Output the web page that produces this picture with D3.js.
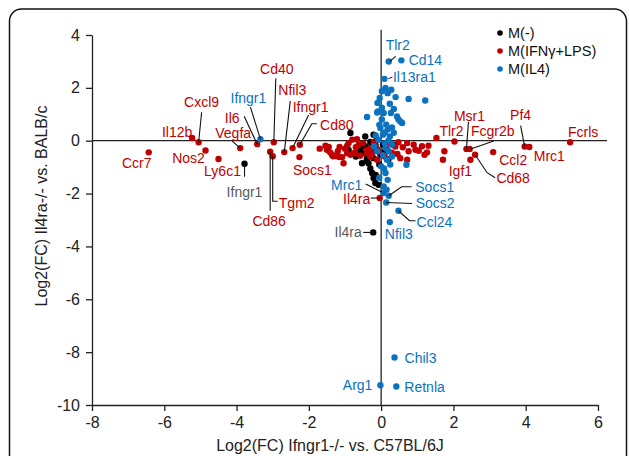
<!DOCTYPE html>
<html>
<head>
<meta charset="utf-8">
<script src="https://cdn.jsdelivr.net/npm/d3@7"></script>
<style>
  body { margin: 0; background: #fff; }
  svg { display: block; font-family: "Liberation Sans", Arial, sans-serif; }
</style>
</head>
<body>
<div id="chart"></div>
<script>
// ---- data: [log2FC Ifngr1, log2FC Il4ra, gene (only when labelled)] ----
const mNone = [
  [-3.78, -0.87, "Ifngr1"], [-0.22, -3.47, "Il4ra"],
  [-0.85, 0.29], [-0.44, 0.16], [-0.21, 0.23], [-0.35, -0.28], [-0.58, -0.34],
  [-0.48, -0.47], [-0.62, -0.53], [-0.39, -0.66], [-0.21, -0.66], [-0.02, -0.53],
  [-0.35, -0.85], [-0.53, -0.85], [-0.25, -1.22], [-0.21, -1.41], [-0.16, -1.6],
  [-0.07, -1.67], [0.35, -0.15], [-0.16, -0.15], [-0.3, -0.05], [-0.12, 0.05],
  [-0.7, -0.6], [-0.45, -0.2], [-0.28, -0.45], [-0.1, -0.35], [-0.55, -0.15],
  [-0.05, -0.9], [-0.3, -1.05], [-0.15, -1.3], [0.1, -0.4], [0.2, -0.7],
  [-0.4, -0.75], [-0.25, -0.25], [-0.65, -0.25], [-0.9, -0.35], [0.05, -0.15]
];

const mIfnLps = [
  [-6.43, -0.44, "Ccr7"], [-5.23, 0.1, "Il12b"], [-5.05, -0.06, "Cxcl9"],
  [-4.86, -0.37, "Nos2"], [-4.5, -0.69, "Ly6c1"], [-3.9, -0.28, "Vegfa"],
  [-3.43, -0.13, "Il6"], [-3.07, -0.42, "Cd86"], [-3.0, -0.59, "Tgm2"],
  [-2.97, -0.06, "Cd40"], [-2.68, -0.43, "Nfil3"], [-2.45, -0.28, "Ifngr1"],
  [-2.25, -0.15, "Cd80"], [-2.26, -0.62, "Socs1"], [-0.04, -2.17, "Il4ra"],
  [2.03, -0.03, "Tlr2"], [2.36, -0.31, "Msr1"], [2.45, -0.31, "Fcgr2b"],
  [2.47, -0.72, "Igf1"], [2.6, -0.53, "Cd68"], [3.1, -0.43, "Ccl2"],
  [3.97, -0.22, "Pf4"], [4.1, -0.24, "Mrc1"], [5.23, -0.06, "Fcrls"],
  [-1.54, -0.19], [-1.5, -0.34], [-1.36, -0.53], [-1.22, -0.59], [-1.04, -0.85],
  [-0.94, -0.19], [-0.8, 0.04], [-0.67, 0.06], [-0.85, -0.53], [-0.71, -0.47],
  [-0.58, -0.57], [-0.39, -0.47], [-0.21, -0.28], [-0.07, -0.4], [-1.45, -0.24],
  [-1.41, -0.44], [-1.15, -0.62], [-1.33, -0.59], [-0.9, -0.09], [-0.76, -0.47],
  [-1.15, -0.24], [-0.62, -0.15], [-0.94, -0.47], [-1.08, -0.62], [-0.3, -0.28],
  [-0.25, -0.47], [-0.11, -0.72], [-0.7, -0.25], [-0.5, -0.1], [-0.4, -0.35],
  [-0.15, -0.2], [-0.2, -0.05], [-0.3, -0.6], [-1.7, -0.3], [-1.2, -0.4],
  [-1.0, -0.3], [0.48, -0.06], [0.72, -0.09], [0.6, -0.25], [0.76, -0.4],
  [1.04, -0.38], [1.13, -0.21], [1.31, -0.19], [1.27, -0.44], [1.2, -0.53],
  [1.53, 0.1], [1.75, -0.4], [1.71, -0.72], [0.39, -0.22], [0.53, -0.66],
  [0.72, -0.72], [0.95, -0.34], [0.3, -0.45], [0.15, -0.3], [0.25, -0.1],
  [0.1, -0.6], [0.9, -0.15], [0.45, -0.5]
];

const mIl4 = [
  [0.21, 3.0, "Tlr2"], [0.56, 3.04, "Cd14"], [0.09, 2.34, "Il13ra1"],
  [-3.34, 0.06, "Ifngr1"], [0.07, -1.98, "Mrc1"], [0.21, -2.08, "Socs1"],
  [0.14, -2.34, "Socs2"], [0.48, -2.65, "Ccl24"], [0.24, -3.08, "Nfil3"],
  [0.37, -8.2, "Chil3"], [-0.02, -9.25, "Arg1"], [0.42, -9.3, "Retnla"],
  [0.02, 1.87], [0.18, 1.8], [0.28, 1.93], [-0.04, 1.62], [0.76, 1.58], [1.22, 1.52],
  [-0.1, 1.43], [0.24, 1.4], [-0.11, 1.07], [0.07, 1.05], [0.27, 1.05], [0.44, 0.92],
  [0.53, 0.73], [0.58, 0.67], [-0.39, 0.9], [-0.09, 1.11], [0.48, 0.8], [0.02, 0.8],
  [0.14, 0.61], [-0.02, 0.48], [0.18, 0.42], [0.05, 0.23], [0.24, 0.16], [-0.07, 0.04],
  [0.3, -0.15], [0.12, -0.28], [0.21, -0.4], [-0.11, -0.4], [0.16, -0.72], [0.0, -0.97],
  [0.12, -1.22], [0.18, -1.48], [0.07, -1.73], [0.7, -0.91], [0.1, 0.3], [-0.05, 0.6],
  [0.2, 0.0], [0.1, -0.1], [0.3, 0.5], [0.35, 0.3], [-0.15, 0.2], [0.05, -0.55],
  [0.25, -0.9], [0.08, -1.05], [-0.05, -1.4], [0.15, -1.85], [0.35, 1.2], [0.4, 1.65],
  [-0.2, -0.2], [0.3, -0.6], [0.02, 1.25], [0.12, 2.0]
];

const seriesNames = ["M(-)", "M(IFNγ+LPS)", "M(IL4)"];
const xTicks = [-8, -6, -4, -2, 0, 2, 4, 6];
const yTicks = [-10, -8, -6, -4, -2, 0, 2, 4];
const xTitle = "Log2(FC) Ifngr1-/- vs. C57BL/6J";
const yTitle = "Log2(FC) Il4ra-/- vs. BALB/c";

// ---- styling / layout ----
const W = 629, H = 456;
const colors = { none: "#000000", ifn: "#c00000", il4: "#0a72c0" };
const labelColors = { none: "#595959", ifn: "#c00000", il4: "#0a72c0" };
const sets = { none: mNone, ifn: mIfnLps, il4: mIl4 };

// label offsets (px from the point) and leader paths
const annotations = [
  { s: "ifn", g: "Ccr7", dx: -12, dy: 11 },
  { s: "ifn", g: "Il12b", dx: -15, dy: -6 },
  { s: "ifn", g: "Cxcl9", dx: 3, dy: -40, path: [[3, -30], [0, 0]] },
  { s: "ifn", g: "Nos2", dx: -17, dy: 8 },
  { s: "ifn", g: "Ly6c1", dx: 4, dy: 12 },
  { s: "ifn", g: "Vegfa", dx: -7, dy: -15, path: [[-8, -7], [0, 0]] },
  { s: "ifn", g: "Il6", dx: -25, dy: -26, path: [[-13, -28], [0, 0]] },
  { s: "ifn", g: "Cd40", dx: 3, dy: -73, path: [[2, -64], [0, 0]] },
  { s: "ifn", g: "Nfil3", dx: 8, dy: -62, path: [[6, -51], [0, 0]] },
  { s: "ifn", g: "Ifngr1", dx: 18, dy: -41, path: [[16, -33], [0, 0]] },
  { s: "ifn", g: "Cd80", dx: 37, dy: -20, path: [[17, -21], [12, -21], [0, 0]] },
  { s: "ifn", g: "Socs1", dx: 13, dy: 13 },
  { s: "ifn", g: "Cd86", dx: -1, dy: 69, path: [[0, 0], [0, 59]] },
  { s: "ifn", g: "Tgm2", dx: 24, dy: 47, path: [[0, 0], [0, 45], [5, 45]] },
  { s: "ifn", g: "Il4ra", dx: -23, dy: 1, path: [[-9, 0], [0, 0]] },
  { s: "ifn", g: "Tlr2", dx: -3, dy: -10 },
  { s: "ifn", g: "Msr1", dx: 3, dy: -33, path: [[2, -27], [0, 0]] },
  { s: "ifn", g: "Fcgr2b", dx: 23, dy: -18, path: [[24, -8], [1, 0]] },
  { s: "ifn", g: "Igf1", dx: -10, dy: 11 },
  { s: "ifn", g: "Cd68", dx: 38, dy: 23, path: [[0, 0], [12, 18], [20, 23]] },
  { s: "ifn", g: "Ccl2", dx: 20, dy: 8 },
  { s: "ifn", g: "Pf4", dx: -4, dy: -31, path: [[-4, -21], [0, 0]] },
  { s: "ifn", g: "Mrc1", dx: 20, dy: 9 },
  { s: "ifn", g: "Fcrls", dx: 13, dy: -10 },
  { s: "il4", g: "Tlr2", dx: 9, dy: -16, path: [[7, -5], [1, 0]] },
  { s: "il4", g: "Cd14", dx: 24, dy: 0 },
  { s: "il4", g: "Il13ra1", dx: 30, dy: -2, path: [[4, 0], [8, -2]] },
  { s: "il4", g: "Ifngr1", dx: -12, dy: -41, path: [[-10, -32], [0, 0]] },
  { s: "il4", g: "Mrc1", dx: -37, dy: -8, path: [[-18, -9], [-2, -1]] },
  { s: "il4", g: "Socs1", dx: 46, dy: -9, path: [[0, 0], [13, -9], [23, -9]] },
  { s: "il4", g: "Socs2", dx: 49, dy: 1, path: [[0, 0], [26, 1]] },
  { s: "il4", g: "Ccl24", dx: 36, dy: 11, path: [[0, 0], [11, 10], [17, 10]] },
  { s: "il4", g: "Nfil3", dx: 9, dy: 12 },
  { s: "il4", g: "Chil3", dx: 10, dy: 1, anchor: "start" },
  { s: "il4", g: "Arg1", dx: -8, dy: 0, anchor: "end" },
  { s: "il4", g: "Retnla", dx: 8, dy: 1, anchor: "start" },
  { s: "none", g: "Ifngr1", dx: 0, dy: 28, path: [[0, 0], [0, 13]] },
  { s: "none", g: "Il4ra", dx: -25, dy: 0, path: [[-10, 0], [0, 0]] }
];

const svg = d3.select("#chart").append("svg")
  .attr("width", W)
  .attr("height", H);

// rounded frame
svg.append("rect")
  .attr("x", 9.5).attr("y", 9)
  .attr("width", 617).attr("height", 520)
  .attr("rx", 12)
  .attr("fill", "none")
  .attr("stroke", "#111")
  .attr("stroke-width", 1.5);

const x = d3.scaleLinear().domain([-8, 6]).range([92, 598]);
const y = d3.scaleLinear().domain([-10, 4]).range([405, 35]);

// axes (plain hyphen for negatives, like the original)
const fmt = d => String(d);
const styleAxis = g => {
  g.selectAll("path, line").attr("stroke", "#222").attr("stroke-width", 1.3);
  g.selectAll("text").attr("fill", "#222").style("font-size", "16px")
    .style("font-family", '"Liberation Sans", Arial, sans-serif');
};

svg.append("g")
  .attr("transform", `translate(0,${y(-10)})`)
  .call(d3.axisBottom(x).tickValues(xTicks).tickFormat(fmt)
    .tickSize(6).tickSizeOuter(0).tickPadding(6))
  .call(styleAxis);

svg.append("g")
  .attr("transform", `translate(${x(-8)},0)`)
  .call(d3.axisLeft(y).tickValues(yTicks).tickFormat(fmt)
    .tickSize(6).tickSizeOuter(0).tickPadding(6))
  .call(styleAxis);

// zero lines
svg.append("line")
  .attr("x1", x(-8)).attr("x2", x(6.25))
  .attr("y1", y(0)).attr("y2", y(0))
  .attr("stroke", "#222").attr("stroke-width", 1.3);
svg.append("line")
  .attr("x1", x(0)).attr("x2", x(0))
  .attr("y1", y(-10)).attr("y2", y(4.2))
  .attr("stroke", "#222").attr("stroke-width", 1.3);

// axis titles
svg.append("text")
  .attr("x", (x(-8) + x(6)) / 2 - 15)
  .attr("y", 451)
  .attr("text-anchor", "middle")
  .style("font-size", "16px")
  .attr("fill", "#222")
  .text(xTitle);

svg.append("text")
  .attr("transform", `translate(47,${206}) rotate(-90)`)
  .attr("text-anchor", "middle")
  .style("font-size", "16px")
  .attr("fill", "#222")
  .text(yTitle);

// points
["none", "ifn", "il4"].forEach(key => {
  svg.append("g").selectAll("circle")
    .data(sets[key])
    .enter()
    .append("circle")
    .attr("cx", d => x(d[0]))
    .attr("cy", d => y(d[1]))
    .attr("r", 3.2)
    .attr("fill", colors[key]);
});

// labels + leader lines
const labelLayer = svg.append("g");
annotations.forEach(a => {
  const d = sets[a.s].find(p => p[2] === a.g);
  if (!d) return;
  const px = x(d[0]), py = y(d[1]);
  if (a.path) {
    labelLayer.append("path")
      .attr("d", d3.line()(a.path.map(([ox, oy]) => [px + ox, py + oy])))
      .attr("fill", "none")
      .attr("stroke", "#111")
      .attr("stroke-width", 1.1);
  }
  labelLayer.append("text")
    .attr("x", px + a.dx)
    .attr("y", py + a.dy)
    .attr("dy", "0.35em")
    .attr("text-anchor", a.anchor || "middle")
    .style("font-size", "14px")
    .attr("fill", labelColors[a.s])
    .text(a.g);
});

// legend
const legend = svg.append("g").attr("transform", "translate(500,33)");
seriesNames.forEach((name, i) => {
  const key = ["none", "ifn", "il4"][i];
  legend.append("circle")
    .attr("cx", 0).attr("cy", i * 18)
    .attr("r", 2.8)
    .attr("fill", colors[key]);
  legend.append("text")
    .attr("x", 8).attr("y", i * 18)
    .attr("dy", "0.35em")
    .style("font-size", "14.5px")
    .attr("fill", "#111")
    .text(name);
});
</script>
</body>
</html>
